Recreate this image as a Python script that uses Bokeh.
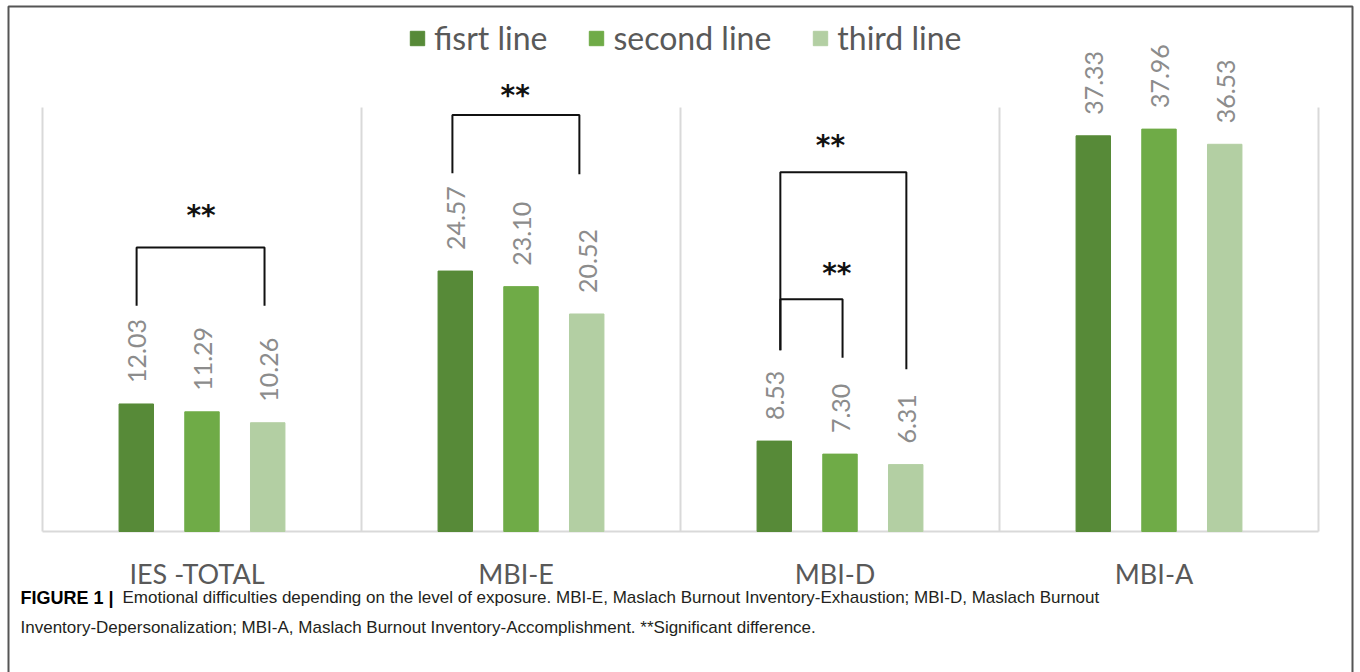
import math
from bokeh.plotting import figure
from bokeh.models import ColumnDataSource, Range1d, Legend, LegendItem
from bokeh.core.properties import value
from bokeh.embed import file_html
from bokeh.resources import INLINE

# ---------------- data ----------------
categories = ["IES -TOTAL", "MBI-E", "MBI-D", "MBI-A"]
series_names = ["fisrt line", "second line", "third line"]
first_line = [12.03, 24.57, 8.53, 37.33]
second_line = [11.29, 23.10, 7.30, 37.96]
third_line = [10.26, 20.52, 6.31, 36.53]
y_axis_max = 40

# significance brackets (category index, left x / right x within category, bar height, ends)
bracket_cat = [0, 1, 2, 2]
bracket_x0 = [0.295, 0.285, 0.313, 0.313]
bracket_x1 = [0.696, 0.683, 0.708, 0.508]
bracket_top = [26.8, 39.3, 33.9, 21.9]
bracket_end0 = [21.3, 33.8, 17.1, 17.1]
bracket_end1 = [21.3, 33.7, 15.3, 16.4]
star_x = [0.497, 0.482, 0.470, 0.490]
star_y = [29.8, 41.1, 36.4, 24.3]

caption_bold = "FIGURE 1 |"
caption_line1 = ("Emotional difficulties depending on the level of exposure. MBI-E, Maslach Burnout "
                 "Inventory-Exhaustion; MBI-D, Maslach Burnout")
caption_line2 = ("Inventory-Depersonalization; MBI-A, Maslach Burnout Inventory-Accomplishment. "
                 "**Significant difference.")

# ---------------- layout ----------------
W, H = 1360, 672
plot_left, plot_right = 42, 1318
plot_top, plot_bottom = 107, 531
n = len(categories)
sx = (plot_right - plot_left) / n          # px per category
sy = (plot_bottom - plot_top) / y_axis_max  # px per unit

x_start = -plot_left / sx
x_end = n + (W - plot_right) / sx
y_start = -(H - plot_bottom) / sy
y_end = plot_bottom / sy


def px2x(px):
    return x_start + px / sx


def px2y(py):
    return y_end - py / sy


colors = ["#578a38", "#6fab47", "#b3cfa3"]
offsets = [-0.206, 0.0, 0.206]
bar_w = 0.108

p = figure(width=W, height=H, x_range=Range1d(x_start, x_end), y_range=Range1d(y_start, y_end),
           output_backend="svg", toolbar_location=None, min_border=0)
p.axis.visible = False
p.grid.visible = False
p.outline_line_color = None
p.background_fill_color = "white"
p.border_fill_color = "white"

# category separators and baseline
sep_x = list(range(n + 1))
p.segment(x0=sep_x, y0=[0] * len(sep_x), x1=sep_x, y1=[y_axis_max] * len(sep_x),
          line_color="#d9d9d9", line_width=2)
p.segment(x0=[0], y0=[0], x1=[n], y1=[0], line_color="#d9d9d9", line_width=2)

# bars
legend_items = []
for k, (vals, name) in enumerate(zip([first_line, second_line, third_line], series_names)):
    xs = [i + 0.5 + offsets[k] for i in range(n)]
    src = ColumnDataSource(dict(x=xs, top=vals, lab=["%.2f" % v for v in vals]))
    r = p.vbar(x="x", top="top", width=bar_w, bottom=0, source=src,
               fill_color=colors[k], line_color=colors[k])
    p.text(x="x", y="top", text="lab", source=src, angle=math.pi / 2,
           text_align="left", text_baseline="middle", y_offset=-21, x_offset=1,
           text_font=value("Lato"), text_font_size="25px", text_color="#8c8c8c")
    legend_items.append(LegendItem(label=name, renderers=[r]))

legend = Legend(items=legend_items, orientation="horizontal", location=(408, 615),
                label_text_font="Lato", label_text_font_size="32px", label_text_color="#595959",
                glyph_width=18, glyph_height=18, label_standoff=8, spacing=40,
                padding=0, margin=0, border_line_color=None, background_fill_alpha=0)
p.add_layout(legend, "center")

# category labels
p.text(x=[i + 0.5 for i in range(n)], y=[0] * n, text=categories, text_align="center",
       text_baseline="middle", y_offset=42, x_offset=-5,
       text_font=value("Lato"), text_font_size="27px", text_color="#595959")

# brackets
bx0 = [c + a for c, a in zip(bracket_cat, bracket_x0)]
bx1 = [c + a for c, a in zip(bracket_cat, bracket_x1)]
xs_l = [[a, a, b, b] for a, b in zip(bx0, bx1)]
ys_l = [[e0, t, t, e1] for e0, t, e1 in zip(bracket_end0, bracket_top, bracket_end1)]
p.multi_line(xs=xs_l, ys=ys_l, line_color="#111111", line_width=2)
p.text(x=[c + a for c, a in zip(bracket_cat, star_x)], y=star_y, text=["**"] * len(star_y),
       text_align="center", text_baseline="middle", text_font=value("DejaVu Sans"),
       text_font_style="bold", text_font_size="28px", text_color="#111111")

# caption
p.text(x=[px2x(20)], y=[px2y(597)], text=[caption_bold], text_align="left", text_baseline="middle",
       text_font=value("Liberation Sans"), text_font_style="bold", text_font_size="18px",
       text_color="#000000")
p.text(x=[px2x(122)], y=[px2y(597)], text=[caption_line1], text_align="left", text_baseline="middle",
       text_font=value("Liberation Sans"), text_font_size="17px", text_color="#231f20")
p.text(x=[px2x(20)], y=[px2y(627)], text=[caption_line2], text_align="left", text_baseline="middle",
       text_font=value("Liberation Sans"), text_font_size="17px", text_color="#231f20")

# outer frame
p.multi_line(xs=[[px2x(8), px2x(8), px2x(1352), px2x(1352)]],
             ys=[[px2y(700), px2y(6), px2y(6), px2y(700)]],
             line_color="#555555", line_width=2)

open("out.html", "w").write(file_html(p, INLINE))
